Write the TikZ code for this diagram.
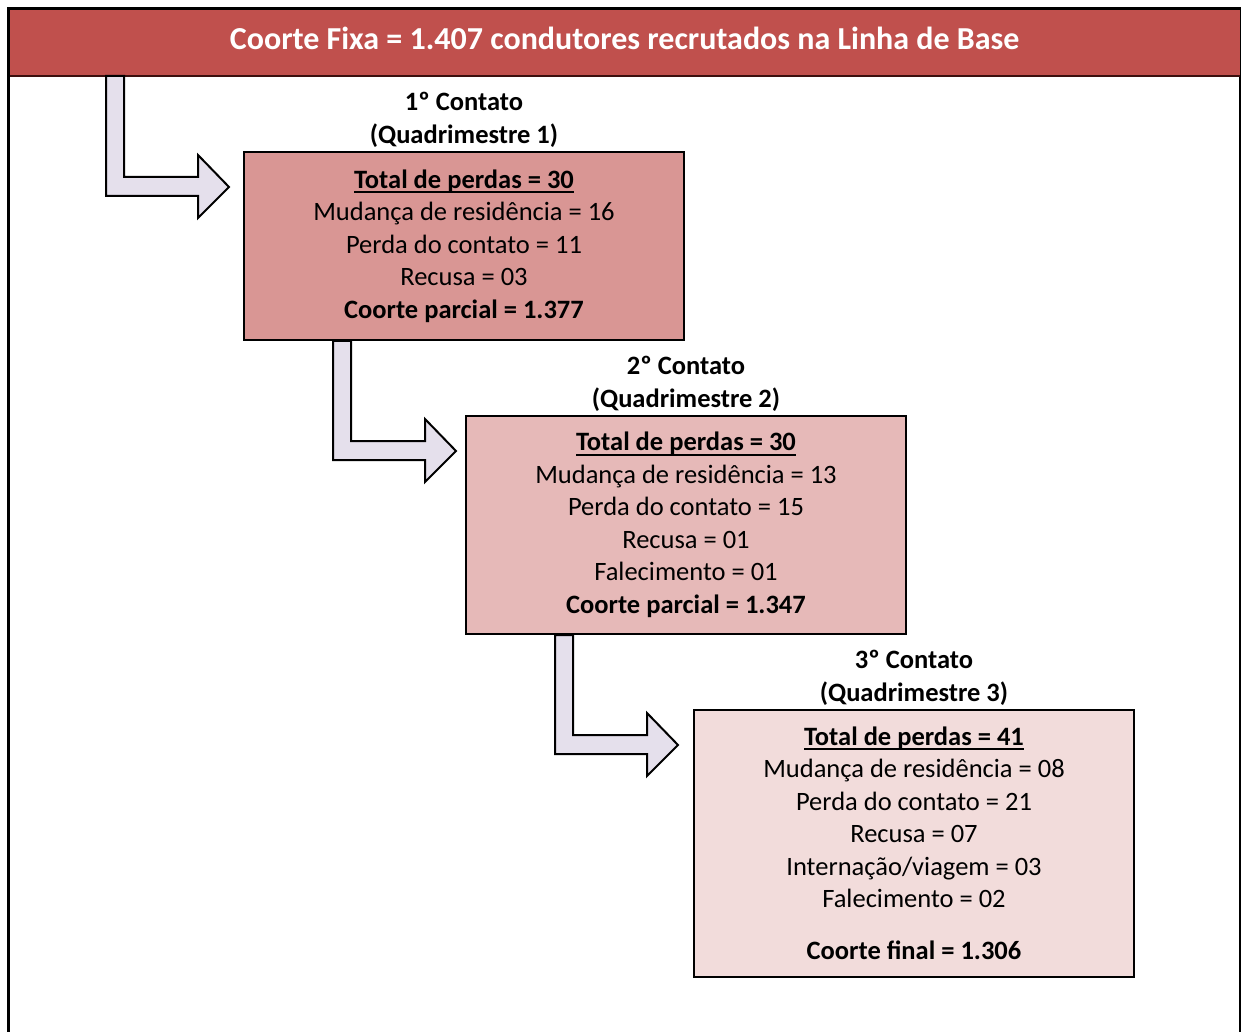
\documentclass[tikz,border=0pt]{standalone}
\usepackage{fontspec}
\setmainfont{Carlito}
\usepackage{xcolor}
\usetikzlibrary{positioning,calc}

\definecolor{vermelhotopo}{HTML}{C0504D}
\definecolor{bordatopo}{HTML}{3B0F0E}
\definecolor{rosa1}{HTML}{D99694}
\definecolor{rosa2}{HTML}{E6B9B8}
\definecolor{rosa3}{HTML}{F2DCDB}
\definecolor{lilas}{HTML}{E5E0EC}

% sublinhado grosso, rente ao texto
\newcommand{\sublinhado}[1]{%
    \setbox0\hbox{#1}\rlap{\rule[-5pt]{\wd0}{2pt}}\box0}

% seta dobrada: #1 = origem, #2 = destino, #3 = folga ate a caixa
\newcommand{\setacurva}[3]{%
    \coordinate (#2-ponta) at ($(#2.north west)+(-#3,36)$);
    \coordinate (#2-haste) at ($(#2-ponta)+(-105,0)$);
    \draw[seta] (#2-ponta) -- ++(-31,-32) -- ++(0,22) -- ++(-74,0)
        -- (#2-haste |- #1.south) -- ++(-18,0)
        |- ($(#2-ponta)+(-31,9)$) -- ++(0,22) -- cycle;
}

\begin{document}
\begin{tikzpicture}[
    x=1pt, y=-1pt,
    caixa/.style={
        rectangle,
        draw,
        line width=2pt,
        anchor=north west,
        align=center,
        minimum width=440pt,
        inner sep=0pt,
        font=\fontsize{26.5}{32.5}\selectfont
    },
    titulo/.style={
        align=center,
        inner sep=0pt,
        font=\fontsize{26.5}{33}\selectfont\bfseries
    },
    seta/.style={fill=lilas, draw, line width=2pt, line join=miter}
]

\useasboundingbox (0,0) rectangle (1243,1032);

% moldura externa, aberta embaixo
\draw[line width=2.5pt] (8.5,1034) -- (8.5,8.5) -- (1240,8.5) -- (1240,1034);

\node[rectangle, fill=vermelhotopo, anchor=north west, minimum width=1230pt,
      minimum height=66pt, inner sep=0pt, text=white, text depth=9pt,
      font=\fontsize{32}{36}\selectfont\bfseries] (topo) at (9.5,9.5)
      {Coorte Fixa = 1.407 condutores recrutados na Linha de Base};
\draw[bordatopo, line width=1.5pt] (topo.south west) -- (topo.south east);

\node[caixa, fill=rosa1, minimum height=188pt] (caixa1) at (243,151)
    {\textbf{\sublinhado{Total de perdas = 30}}\\
     Mudança de residência = 16\\
     Perda do contato = 11\\
     Recusa = 03\\
     \textbf{Coorte parcial = 1.377}};

\node[caixa, fill=rosa2, minimum height=218pt] (caixa2) at (465,415)
    {\textbf{\sublinhado{Total de perdas = 30}}\\
     Mudança de residência = 13\\
     Perda do contato = 15\\
     Recusa = 01\\
     Falecimento = 01\\
     \textbf{Coorte parcial = 1.347}};

\node[caixa, fill=rosa3, minimum height=267pt] (caixa3) at (693,709)
    {\textbf{\sublinhado{Total de perdas = 41}}\\
     Mudança de residência = 08\\
     Perda do contato = 21\\
     Recusa = 07\\
     Internação/viagem = 03\\
     Falecimento = 02\\[19.5pt]
     \textbf{Coorte final = 1.306}};

\node[titulo, above=3pt of caixa1] (titulo1) {1º Contato\\(Quadrimestre 1)};
\node[titulo, above=3pt of caixa2] (titulo2) {2º Contato\\(Quadrimestre 2)};
\node[titulo, above=3pt of caixa3] (titulo3) {3º Contato\\(Quadrimestre 3)};

\setacurva{topo}{caixa1}{14}
\setacurva{caixa1}{caixa2}{9}
\setacurva{caixa2}{caixa3}{15}

\end{tikzpicture}
\end{document}
